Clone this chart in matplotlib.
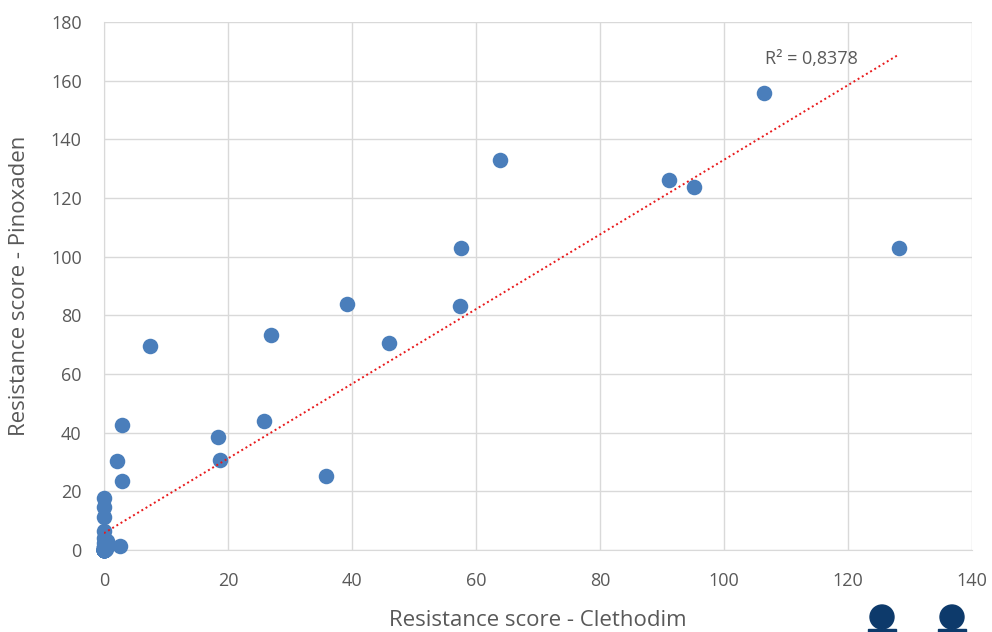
import numpy as np
import matplotlib
matplotlib.use("Agg")
import matplotlib.pyplot as plt
from matplotlib.patches import Circle, Rectangle

# visible points
clethodim = [0, 0, 0, 0, 0, 0, 0, 0, 0.3, 0.5, 0.2, 2.6, 2.1, 2.9, 2.9, 7.4, 18.4, 18.7,
             25.8, 26.9, 35.8, 39.2, 46.0, 57.6, 57.4, 63.9, 91.1, 95.2, 106.5, 128.2]
pinoxaden = [17.7, 14.7, 11.3, 6.5, 4.0, 2.5, 1.0, 0, 0.5, 3.0, 0.2, 1.4, 30.3, 42.6, 23.5, 69.5, 38.5, 30.7,
             44.0, 73.3, 25.2, 83.9, 70.6, 103.0, 83.2, 133.0, 126.1, 123.8, 155.8, 103.0]
# overlapping samples hidden in the cluster at the origin
clethodim_zero = [0, 0, 0, 0, 0, 0, 0, 0, 0, 0, 0, 0, 0, 0, 0, 0, 0, 0, 0, 0,
                  0, 0, 0, 0, 0, 0, 0, 0, 0, 0, 0.1, 0.2, 0.1, 0.3, 0.2]
pinoxaden_zero = [0, 0, 0, 0, 0, 0, 0, 0, 0, 0, 0, 0, 0, 0, 0, 0, 0.5, 0.5, 1, 1,
                  0, 0, 0, 0, 0, 0, 0, 0, 0, 0, 0.5, 1, 0, 2, 1.5]
x_label = "Resistance score - Clethodim"
y_label = "Resistance score - Pinoxaden"
r2_label = "R² = 0,8378"

x = np.array(clethodim + clethodim_zero)
y = np.array(pinoxaden + pinoxaden_zero)
slope, intercept = np.polyfit(x, y, 1)

plt.rcParams['font.family'] = ['Open Sans', 'DejaVu Sans']
fig = plt.figure(figsize=(9.92, 6.32), dpi=100)
ax = fig.add_axes([0.1048, 0.1297, 0.8752, 0.8355])

ax.set_xlim(0, 140)
ax.set_ylim(0, 180)
ax.set_xticks(range(0, 141, 20))
ax.set_yticks(range(0, 181, 20))
ax.grid(True, color='#d9d9d9', linewidth=1)
ax.set_axisbelow(True)
for s in ['top', 'right']:
    ax.spines[s].set_visible(False)
for s in ['left', 'bottom']:
    ax.spines[s].set_color('#d9d9d9')
ax.tick_params(axis='y', length=0, colors='#595959', labelsize=13, pad=16)
ax.tick_params(axis='x', length=0, colors='#595959', labelsize=13, pad=16)

ax.scatter(x, y, s=125, color='#4a7ebb', zorder=3, clip_on=False, linewidths=0)

xl = np.array([0, max(clethodim)])
ax.plot(xl, slope * xl + intercept, color='#e8191b', linestyle=(0, (1, 1.5)), linewidth=1.4, zorder=4)
ax.text(106.6, 167.5, r2_label, color='#595959', fontsize=13, ha='left', va='center')

ax.set_xlabel(x_label, fontsize=16, color='#595959', va='center')
ax.set_ylabel(y_label, fontsize=16, color='#595959', va='center')
ax.xaxis.set_label_coords((538 - 104) / 868, (550 - 620) / 528)
ax.yaxis.set_label_coords((20 - 104) / 868, (550 - 286) / 528)

# partial logo in bottom-right corner (coordinates in inches from bottom-left)
for cx in [8.82, 9.52]:
    fig.patches.append(Circle((cx, 0.15), 0.12, transform=fig.dpi_scale_trans,
                              color='#0d3a6b', zorder=5))
    fig.patches.append(Rectangle((cx - 0.14, 0), 0.28, 0.03, transform=fig.dpi_scale_trans,
                                 color='#0d3a6b', zorder=5))

fig.savefig("out.png", dpi=100)
